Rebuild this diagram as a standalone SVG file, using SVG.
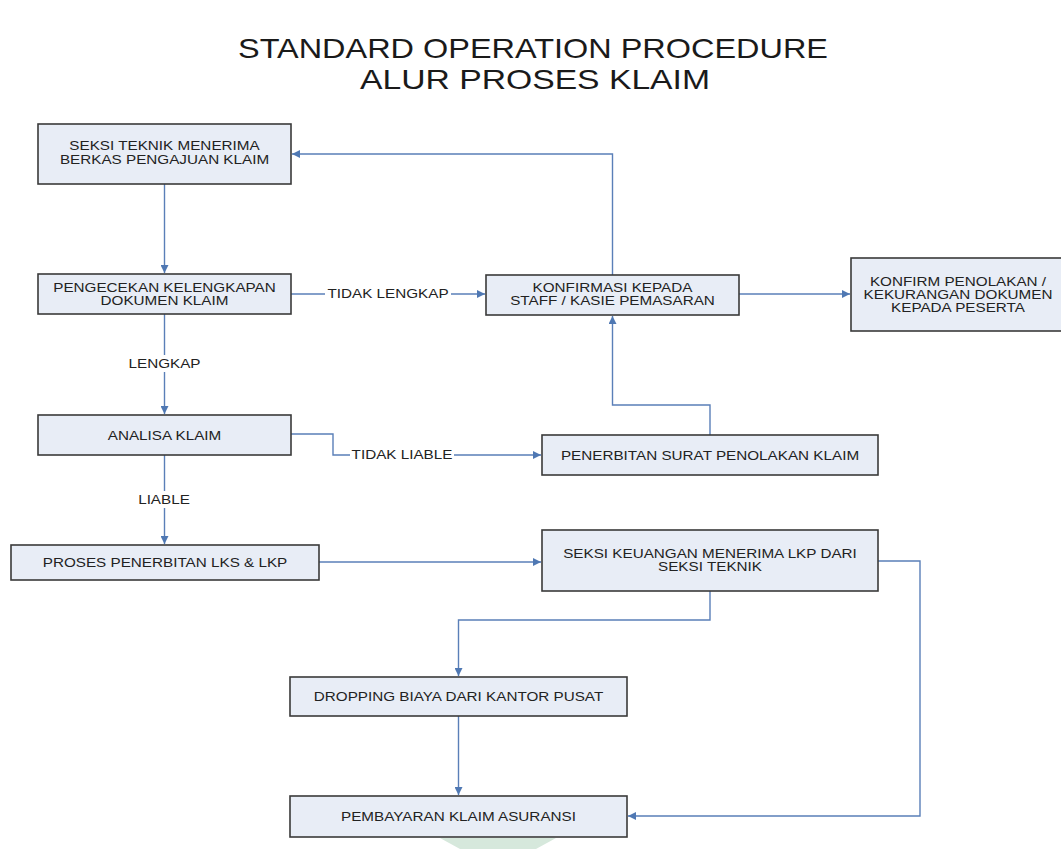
<svg xmlns="http://www.w3.org/2000/svg" width="1061" height="849" viewBox="0 0 1061 849">
<defs>
<style>
.box{fill:#e8edf6;stroke:#3a3a3a;stroke-width:1.6}
.t{font-family:"Liberation Sans",Arial,sans-serif;font-size:12.5px;fill:#222;text-anchor:middle}
.title{font-family:"Liberation Sans",Arial,sans-serif;font-size:28px;fill:#1a1a1a;text-anchor:middle}
.c{fill:none;stroke:#5a7fb8;stroke-width:1.4}
.lbl{fill:#ffffff}
</style>
<marker id="ah" viewBox="0 0 10 10" refX="10" refY="5" markerWidth="9" markerHeight="8" markerUnits="userSpaceOnUse" orient="auto">
<path d="M0,0 L10,5 L0,10 z" fill="#4f78b3"/>
</marker>
</defs>
<rect width="1061" height="849" fill="#ffffff"/>
<polygon points="440,838 556,838 536,849 460,849" fill="#d6e8dc"/>
<g id="title">
<text class="title" x="533" y="57.5" textLength="590" lengthAdjust="spacingAndGlyphs">STANDARD OPERATION PROCEDURE</text>
<text class="title" x="535" y="88.5" textLength="350" lengthAdjust="spacingAndGlyphs">ALUR PROSES KLAIM</text>
</g>
<g id="connectors">
<path class="c" d="M164.5,184 V273" marker-end="url(#ah)"/>
<path class="c" d="M291,294 H485" marker-end="url(#ah)"/>
<path class="c" d="M612.5,275 V154 H292" marker-end="url(#ah)"/>
<path class="c" d="M739,294 H850" marker-end="url(#ah)"/>
<path class="c" d="M164.5,314 V414" marker-end="url(#ah)"/>
<path class="c" d="M291,434 H333 V455 H541" marker-end="url(#ah)"/>
<path class="c" d="M710,435 V405 H612.5 V316" marker-end="url(#ah)"/>
<path class="c" d="M164.5,455 V544" marker-end="url(#ah)"/>
<path class="c" d="M319,562 H541" marker-end="url(#ah)"/>
<path class="c" d="M710,591 V620 H458.5 V676" marker-end="url(#ah)"/>
<path class="c" d="M458.5,716 V795" marker-end="url(#ah)"/>
<path class="c" d="M878,561 H920 V816 H628" marker-end="url(#ah)"/>
<rect class="lbl" x="325" y="285" width="126" height="17"/>
<text class="t" transform="matrix(1.22 0 0 1 388 0)" x="0" y="298">TIDAK LENGKAP</text>
<rect class="lbl" x="350" y="446" width="104" height="17"/>
<text class="t" transform="matrix(1.22 0 0 1 402 0)" x="0" y="459">TIDAK LIABLE</text>
<rect class="lbl" x="126" y="355" width="77" height="17"/>
<text class="t" transform="matrix(1.22 0 0 1 164.5 0)" x="0" y="368">LENGKAP</text>
<rect class="lbl" x="136" y="491" width="56" height="17"/>
<text class="t" transform="matrix(1.22 0 0 1 164 0)" x="0" y="504">LIABLE</text>
</g>
<g id="n1">
<rect class="box" x="38" y="124" width="253" height="60"/>
<text class="t" transform="matrix(1.22 0 0 1 164.5 0)"><tspan x="0" y="150">SEKSI TEKNIK MENERIMA</tspan><tspan x="0" y="164">BERKAS PENGAJUAN KLAIM</tspan></text>
</g>
<g id="n2">
<rect class="box" x="38" y="274" width="253" height="40"/>
<text class="t" transform="matrix(1.22 0 0 1 164.5 0)"><tspan x="0" y="292">PENGECEKAN KELENGKAPAN</tspan><tspan x="0" y="305">DOKUMEN KLAIM</tspan></text>
</g>
<g id="n3">
<rect class="box" x="486" y="275" width="253" height="40"/>
<text class="t" transform="matrix(1.22 0 0 1 612.5 0)"><tspan x="0" y="292">KONFIRMASI KEPADA</tspan><tspan x="0" y="305">STAFF / KASIE PEMASARAN</tspan></text>
</g>
<g id="n4">
<rect class="box" x="851" y="258" width="216" height="73"/>
<text class="t" transform="matrix(1.22 0 0 1 958 0)"><tspan x="0" y="286">KONFIRM PENOLAKAN /</tspan><tspan x="0" y="299">KEKURANGAN DOKUMEN</tspan><tspan x="0" y="312">KEPADA PESERTA</tspan></text>
</g>
<g id="n5">
<rect class="box" x="38" y="415" width="253" height="40"/>
<text class="t" transform="matrix(1.22 0 0 1 164.5 0)" x="0" y="440">ANALISA KLAIM</text>
</g>
<g id="n6">
<rect class="box" x="542" y="435" width="336" height="40"/>
<text class="t" transform="matrix(1.22 0 0 1 710 0)" x="0" y="460">PENERBITAN SURAT PENOLAKAN KLAIM</text>
</g>
<g id="n7">
<rect class="box" x="11" y="545" width="308" height="35"/>
<text class="t" transform="matrix(1.22 0 0 1 165 0)" x="0" y="567">PROSES PENERBITAN LKS &amp; LKP</text>
</g>
<g id="n8">
<rect class="box" x="542" y="530" width="336" height="61"/>
<text class="t" transform="matrix(1.22 0 0 1 710 0)"><tspan x="0" y="558">SEKSI KEUANGAN MENERIMA LKP DARI</tspan><tspan x="0" y="571">SEKSI TEKNIK</tspan></text>
</g>
<g id="n9">
<rect class="box" x="290" y="677" width="337" height="39"/>
<text class="t" transform="matrix(1.22 0 0 1 458.5 0)" x="0" y="701">DROPPING BIAYA DARI KANTOR PUSAT</text>
</g>
<g id="n10">
<rect class="box" x="290" y="796" width="337" height="41"/>
<text class="t" transform="matrix(1.22 0 0 1 458.5 0)" x="0" y="821">PEMBAYARAN KLAIM ASURANSI</text>
</g>
</svg>
